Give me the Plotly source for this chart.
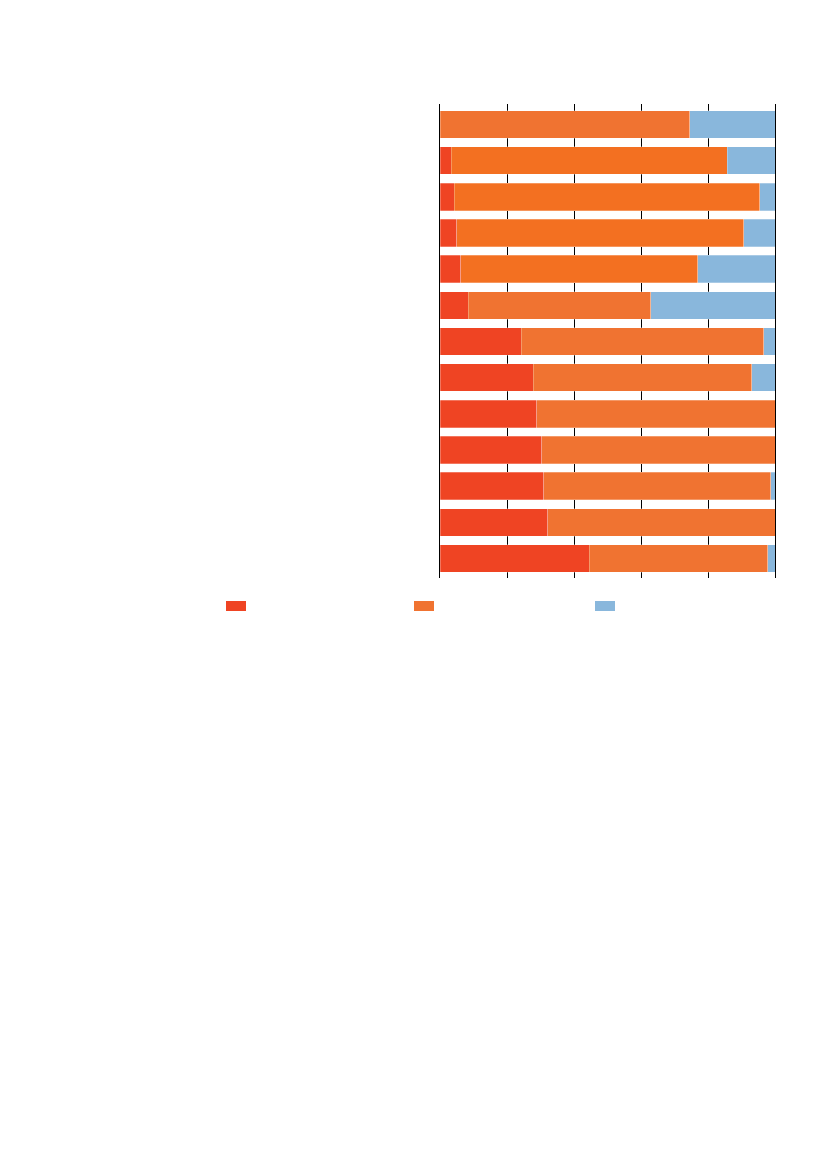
import plotly.graph_objects as go

# 13 rows, top to bottom; values are shares in percent (no labels visible in the source)
rows = ["R1", "R2", "R3", "R4", "R5", "R6", "R7", "R8", "R9", "R10", "R11", "R12", "R13"]
red_share = [0.0, 3.4, 4.2, 5.0, 6.2, 8.4, 24.2, 27.8, 28.9, 30.4, 31.0, 32.2, 44.5]
orange_share = [74.6, 82.3, 91.3, 85.7, 70.7, 54.5, 72.5, 65.2, 71.1, 69.6, 67.7, 67.8, 53.4]
blue_share = [25.4, 14.3, 4.5, 9.3, 23.1, 37.1, 3.3, 7.0, 0.0, 0.0, 1.3, 0.0, 2.1]
x_ticks = [0, 20, 40, 60, 80, 100]

RED = "#EF4423"
ORANGE = "#F07331"
ORANGE_HI = "#F37021"
BLUE = "#89B7DC"
orange_colors = [ORANGE, ORANGE_HI, ORANGE_HI, ORANGE_HI, ORANGE_HI] + [ORANGE] * 8

W, H = 827, 1169
OFF = 8  # page body margin
L, R, T, B = 440 - OFF, 775 - OFF, 104 - OFF, 578 - OFF

fig = go.Figure()
border = dict(color="rgba(255,255,255,0.45)", width=0.6)
fig.add_trace(go.Bar(y=rows, x=red_share, orientation="h", marker=dict(color=RED, line=border),
                     showlegend=False, hoverinfo="skip"))
fig.add_trace(go.Bar(y=rows, x=orange_share, orientation="h", marker=dict(color=orange_colors, line=border),
                     showlegend=False, hoverinfo="skip"))
fig.add_trace(go.Bar(y=rows, x=blue_share, orientation="h", marker=dict(color=BLUE, line=border),
                     showlegend=False, hoverinfo="skip"))

# legend swatches (no legend text visible in the source)
def px_x(px):
    return (px - OFF - L) / (R - L)

def px_y(py):
    return (B - (py - OFF)) / (B - T)

for x0, c in [(226, RED), (414, ORANGE), (595, BLUE)]:
    fig.add_shape(type="rect", xref="paper", yref="paper",
                  x0=px_x(x0), x1=px_x(x0 + 20), y0=px_y(611), y1=px_y(601),
                  fillcolor=c, line=dict(width=0))

fig.update_layout(
    barmode="stack",
    bargap=0.24,
    width=W, height=H,
    margin=dict(l=L, r=W - R, t=T, b=H - B, pad=0),
    paper_bgcolor="white",
    plot_bgcolor="white",
    font=dict(family="Liberation Sans", size=11, color="black"),
)
fig.update_xaxes(range=[0, 100], tickvals=x_ticks, showticklabels=False,
                 showgrid=True, gridcolor="black", gridwidth=1.2,
                 zeroline=False, showline=False, ticks="")
fig.update_yaxes(range=[12.54, -0.567], showticklabels=False, showgrid=False,
                 zeroline=False, showline=True, mirror=True, linecolor="black", linewidth=1.2,
                 ticks="")

fig.write_html("out.html")
